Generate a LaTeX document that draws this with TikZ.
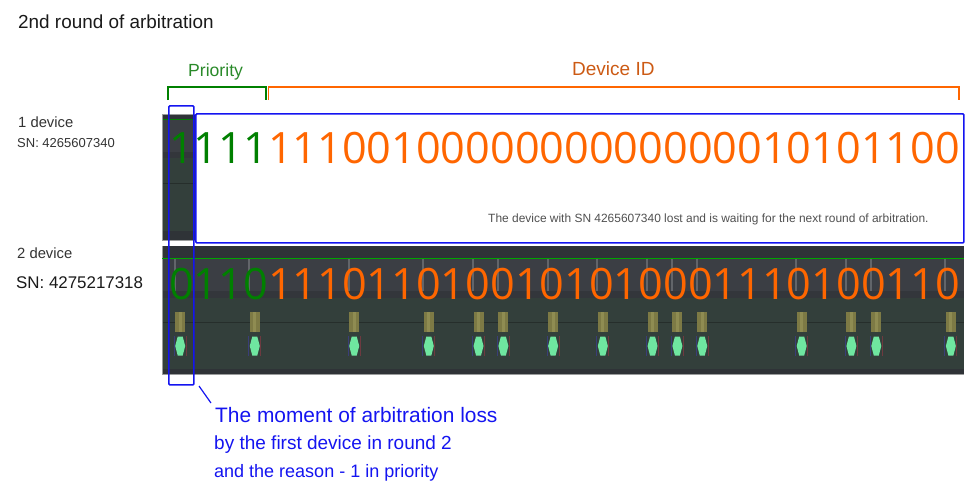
\documentclass[tikz,border=0pt]{standalone}
\usepackage{fontspec}
\setmainfont{Liberation Sans}
\newfontfamily\digitfont{Open Sans}
\definecolor{prio}{HTML}{008000}
\definecolor{priolab}{HTML}{2A8A2A}
\definecolor{devid}{HTML}{FF6600}
\definecolor{devlab}{HTML}{CC5A14}
\definecolor{bluebox}{HTML}{1414F0}
\definecolor{lab}{HTML}{1A1A1A}
\definecolor{notecol}{HTML}{505050}
\definecolor{strip}{HTML}{2F3337}
\definecolor{upper}{HTML}{3B3E44}
\definecolor{band}{HTML}{33363B}
\definecolor{lower}{HTML}{333F3B}
\definecolor{seam}{HTML}{262E2B}
\definecolor{frameg}{HTML}{9A9C9C}
\definecolor{tick}{HTML}{62656A}
\definecolor{gold}{HTML}{7D7A45}
\definecolor{goldhi}{HTML}{8F8C52}
\definecolor{hexg}{HTML}{6FE6A0}
\definecolor{hexl}{HTML}{3A3E78}
\definecolor{hexr}{HTML}{6E3A40}
\tikzset{
  px/.style={x=1pt,y=-1pt},
  label/.style={anchor=base west,inner sep=0pt,text=lab},
  bits/.style={anchor=base west,inner sep=0pt,font=\digitfont\fontsize{43.2}{44}\selectfont},
  bluetext/.style={anchor=base west,inner sep=0pt,text=bluebox},
  bluerect/.style={draw=bluebox,line width=1.7pt,rounded corners=1pt},
  brace/.style={line width=1.2pt},
}
\begin{document}
\begin{tikzpicture}[px]
\useasboundingbox (0,0) rectangle (973,490);
% panel 1
\fill[frameg] (162,114) rectangle (196,241);
\fill[strip] (163,115) rectangle (196,240);
\fill[upper] (163,119) rectangle (196,152);
\fill[band] (163,152) rectangle (196,158);
\fill[lower] (163,158) rectangle (196,231);
\draw[green!50!black,line width=.6pt] (163,119) -- (196,119);
\draw[seam,line width=.6pt] (163,183) -- (196,183);
% panel 2
\fill[frameg] (162,246) rectangle (964,375);
\fill[strip] (163,246) rectangle (964,374);
\fill[upper] (163,259) rectangle (964,291);
\fill[band] (163,291) rectangle (964,298);
\fill[lower] (163,298) rectangle (964,369);
\draw[green!65!black,line width=.7pt] (162,258.5) -- (964,258.5);
\draw[seam,line width=.6pt] (163,322) -- (964,322);
\foreach \i in {0,3,7,10,12,13,15,17,19,20,21,25,27,28,31}{
  \pgfmathsetmacro{\cx}{180.2+24.86*\i}
  \fill[tick] (\cx-6.5,258.5) rectangle (\cx-4.5,291);
  \fill[gold] (\cx-5,312) rectangle (\cx+5,332);
  \fill[goldhi] (\cx-1.5,312) rectangle (\cx+1.5,332);
  \fill[hexl] (\cx-6.5,336) rectangle (\cx-5.5,356);
  \fill[hexr] (\cx+5.5,336) rectangle (\cx+6.5,356);
  \fill[hexg] (\cx-5,346) -- (\cx-2.5,336.5) -- (\cx+2.5,336.5) -- (\cx+5,346) -- (\cx+2.5,355.5) -- (\cx-2.5,355.5) -- cycle;
}
% boxes
\node[bluerect,fill=white,inner sep=0pt,minimum width=768pt,minimum height=129pt,anchor=north west] (idbox) at (195,113) {};
% brackets
\coordinate (pa) at (168,100);
\coordinate (pb) at (266,100);
\coordinate (da) at (268.5,100);
\coordinate (db) at (959,100);
\draw[prio,brace] (pa) -- ++(0,-13) -| (pb);
\draw[devid,brace] (da) -- ++(0,-13) -| (db);
% digits
\node[bits] (row1) at (169,163) {\textcolor{prio}{1111}\textcolor{devid}{1110010000000000000010101100}};
\node[bits] (row2) at (169,299) {\textcolor{prio}{0110}\textcolor{devid}{1110110100101010001110100110}};
\node[bluerect,inner sep=0pt,minimum width=25pt,minimum height=279pt,anchor=north west] (lossbox) at (168,105) {};
% labels
\node[label,font=\fontsize{18.9}{20}\selectfont] (title) at (18,28) {2nd round of arbitration};
\node[label,font=\fontsize{17.6}{20}\selectfont,text=priolab] (prilab) at (188,76) {Priority};
\node[label,font=\fontsize{19}{21}\selectfont,text=devlab] (idlab) at (572,75) {Device ID};
\node[label,font=\fontsize{14.8}{16}\selectfont,text=black!80] (d1) at (18,127) {1 device};
\node[label,font=\fontsize{13}{15}\selectfont,text=black!80] (s1) at (17,147) {SN: 4265607340};
\node[label,font=\fontsize{14.8}{16}\selectfont,text=black!80] (d2) at (17,258) {2 device};
\node[label,font=\fontsize{16.9}{18}\selectfont] (s2) at (16,288) {SN: 4275217318};
\node[label,font=\fontsize{11.95}{14}\selectfont,text=notecol] (note) at (488,222.5) {The device with SN 4265607340 lost and is waiting for the next round of arbitration.};
% callout
\coordinate (ca) at (199,386);
\coordinate (cb) at (211,403);
\draw[bluebox,line width=1.2pt] (ca) -- (cb);
\node[bluetext,font=\fontsize{20.9}{23}\selectfont] (m1) at (215,422) {The moment of arbitration loss};
\node[bluetext,font=\fontsize{19}{21}\selectfont] (m2) at (214,449) {by the first device in round 2};
\node[bluetext,font=\fontsize{18}{20}\selectfont] (m3) at (214,477) {and the reason - 1 in priority};
\end{tikzpicture}
\end{document}
